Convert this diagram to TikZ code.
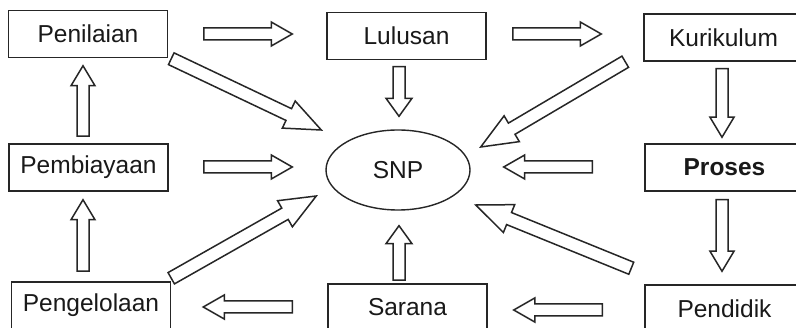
\documentclass[tikz,border=0pt]{standalone}
\usepackage{fontspec}
\setmainfont{Liberation Sans}
\usetikzlibrary{calc,shapes.geometric}

\tikzset{
    box/.style={draw=black!85, line width=1.5pt, fill=white, minimum width=159pt,
        minimum height=47pt, inner sep=0pt, text=black!90,
        font=\fontsize{24.5}{28}\selectfont},
    snpnode/.style={ellipse, draw=black!85, line width=1.4pt, fill=white,
        minimum width=144pt, minimum height=80pt, inner sep=0pt, text=black!90,
        font=\fontsize{24.5}{28}\selectfont},
    blkline/.style={draw=black!85, line width=1.5pt, fill=white, line join=miter}
}

% #1 head length, #2 half shaft, #3 half head, #4 tail, #5 tip
\newcommand{\blkarrow}[5]{%
    \path[blkline] let \p1=(#4), \p2=(#5),
        \n1={atan2(\y2-\y1,\x2-\x1)}, \n2={veclen(\x2-\x1,\y2-\y1)} in
        [shift={(\p1)}, rotate=\n1]
        (0pt,-#2pt) -- (\n2-#1pt,-#2pt) -- (\n2-#1pt,-#3pt) -- (\n2,0pt)
        -- (\n2-#1pt,#3pt) -- (\n2-#1pt,#2pt) -- (0pt,#2pt) -- cycle;}

\begin{document}
\begin{tikzpicture}[x=1pt, y=-1pt]
    \clip (0,0) rectangle (796,328);
    \fill[white] (0,0) rectangle (796,328);

    \node[box] (pen) at (88,34) {Penilaian};
    \node[box] (lul) at (406.5,36) {Lulusan};
    \node[box] (kur) at (723.5,37.5) {Kurikulum};
    \node[box] (pem) at (88.5,167.5) {Pembiayaan};
    \node[snpnode] (snp) at (398,170) {SNP};
    \node[box] (pro) at (724.5,167.5) {\bfseries Proses};
    \node[box] (pgl) at (91,305.5) {Pengelolaan};
    \node[box] (sar) at (407.5,307.5) {Sarana};
    \node[box] (pdd) at (724.5,308.5) {Pendidik};

    \blkarrow{21}{6}{12}{$(pen.east)+(35.5,0)$}{$(lul.west)+(-34,-2)$}
    \blkarrow{21}{6}{12}{$(lul.east)+(26,-2)$}{$(kur.west)+(-42,-3.5)$}
    \blkarrow{18}{6}{13}{$(lul.south)+(-7.5,6.5)$}{$(snp.north)+(1,-13)$}
    \blkarrow{20}{6}{12}{$(kur.south)+(-1.5,7)$}{$(pro.north)+(-2.5,-6)$}
    \blkarrow{20}{6}{12}{$(pro.south)+(-2.5,8)$}{$(pdd.north)+(-2.5,-13)$}
    \blkarrow{21}{6}{12}{$(pdd.west)+(-42,1.5)$}{$(sar.east)+(26,2.5)$}
    \blkarrow{21}{6}{12}{$(sar.west)+(-35,-0.5)$}{$(pgl.east)+(32,1.5)$}
    \blkarrow{20}{6}{12}{$(pgl.north)+(-8,-10)$}{$(pem.south)+(-5.5,8)$}
    \blkarrow{20}{6}{12}{$(pem.north)+(-5.5,-7)$}{$(pen.south)+(-5,7.5)$}
    \blkarrow{21}{6}{12}{$(pem.east)+(35,-0.5)$}{$(snp.west)+(-33,-3)$}
    \blkarrow{21}{6}{12}{$(pro.west)+(-52,-0.5)$}{$(snp.east)+(33,-3)$}
    \blkarrow{18}{6}{13}{$(sar.north)+(-8.5,-3)$}{$(snp.south)+(1,15)$}

    \blkarrow{36}{6.5}{15}{$(pen.south east)+(3,0.5)$}{$(snp.west)+(-4,-40)$}
    \blkarrow{36}{6.5}{15}{$(kur.south west)+(-18,0)$}{$(snp.east)+(10,-23)$}
    \blkarrow{36}{6.5}{15}{$(pgl.north east)+(0,-3)$}{$(snp.west)+(-9,26)$}
    \blkarrow{36}{6.5}{15}{$(pdd.north west)+(-13,-16)$}{$(snp.east)+(5,35)$}
\end{tikzpicture}
\end{document}
